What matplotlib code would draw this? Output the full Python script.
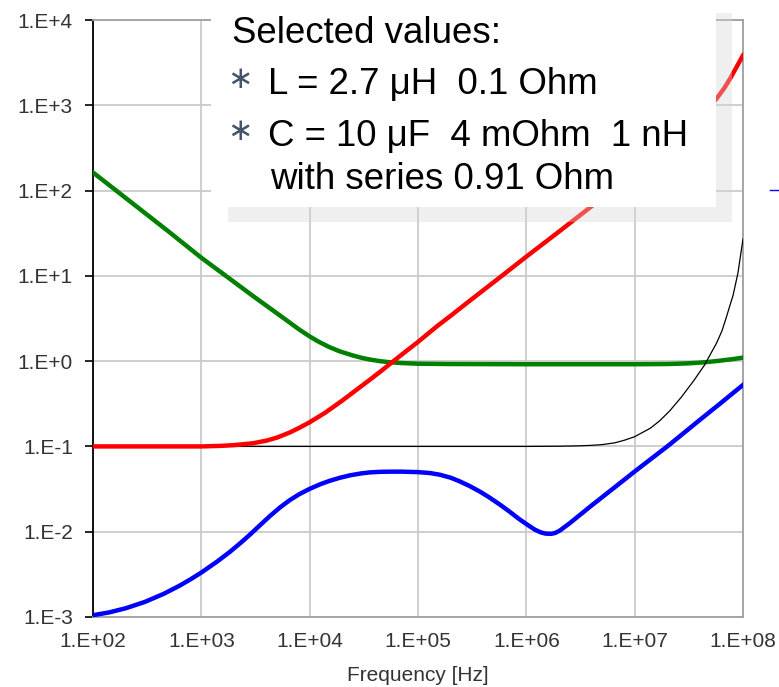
import matplotlib
matplotlib.use('Agg')
import matplotlib.pyplot as plt
from matplotlib.patches import Rectangle
from matplotlib.lines import Line2D
from matplotlib.ticker import NullLocator

W, H = 779, 687

# ---------------- data ----------------
x_ticks = [1e2, 1e3, 1e4, 1e5, 1e6, 1e7, 1e8]
x_tick_labels = ['1.E+02', '1.E+03', '1.E+04', '1.E+05', '1.E+06', '1.E+07', '1.E+08']
y_ticks = [1e-3, 1e-2, 1e-1, 1e0, 1e1, 1e2, 1e3, 1e4]
y_tick_labels = ['1.E-3', '1.E-2', '1.E-1', '1.E+0', '1.E+1', '1.E+2', '1.E+3', '1.E+4']
x_label = 'Frequency [Hz]'

green_f = [1e2, 2e2, 5e2, 1e3, 2e3, 3e3, 4.5e3, 6.5e3, 8e3, 1e4, 1.2e4, 1.5e4,
           1.9e4, 2.5e4, 3e4, 3.6e4, 4.5e4, 5.5e4, 7e4, 1e5, 2e5, 1e6, 1e7,
           2e7, 3e7, 4e7, 5e7, 6e7, 8e7, 1e8]
green_z = [163, 82, 33, 16.3, 8.5, 5.8, 4.0, 2.85, 2.35, 1.95, 1.70, 1.472,
           1.301, 1.166, 1.096, 1.044, 0.998, 0.971, 0.950, 0.933, 0.925, 0.92,
           0.92, 0.925, 0.94, 0.96, 0.985, 1.01, 1.055, 1.1]

black_f = [1e2, 1e6, 2e6, 3e6, 4e6, 5e6, 6.5e6, 8e6, 1e7, 1.4e7, 1.7e7, 2.1e7,
           2.7e7, 3.5e7, 4e7, 4.4e7, 5.1e7, 5.7e7, 6.4e7, 7.06e7, 7.6e7, 8.1e7,
           8.6e7, 9e7, 9.5e7, 1e8]
black_z = [0.1, 0.1, 0.1005, 0.1015, 0.103, 0.105, 0.11, 0.118, 0.13, 0.164,
           0.1995, 0.26, 0.379, 0.587, 0.751, 0.894, 1.26, 1.627, 2.27, 3.35,
           4.56, 5.93, 8.39, 10.96, 17.5, 27]

blue_f = [1e2, 1.4e2, 2e2, 3e2, 4.5e2, 6.3e2, 8e2, 1e3, 1.4e3, 1.83e3, 2.3e3,
          2.8e3, 3.5e3, 4.3e3, 5.3e3, 6.5e3, 8e3, 1e4, 1.25e4, 1.53e4, 1.9e4,
          2.35e4, 3e4, 3.6e4, 4.5e4, 5.5e4, 7e4, 1e5, 1.3e5, 1.6e5, 2e5, 2.4e5,
          3e5, 3.7e5, 4.5e5, 5.7e5, 7e5, 8.7e5, 1.05e6, 1.2e6, 1.35e6, 1.5e6,
          1.7e6, 1.85e6, 2.04e6, 2.5e6, 3.1e6, 4e6, 4.8e6, 7e6, 1e7, 1.4e7, 2e7,
          3e7, 4e7, 6e7, 8e7, 1e8]
blue_z = [1.05e-3, 1.13e-3, 1.265e-3, 1.50e-3, 1.87e-3, 2.33e-3, 2.78e-3,
          3.32e-3, 4.47e-3, 5.79e-3, 7.38e-3, 9.2e-3, 0.0120, 0.01528, 0.01917,
          0.0233, 0.0275, 0.0318, 0.036, 0.0395, 0.0429, 0.0458, 0.0483,
          0.0496, 0.0504, 0.0506, 0.0506, 0.050, 0.0487, 0.0465, 0.043, 0.0392,
          0.0343, 0.0297, 0.0255, 0.0208, 0.0172, 0.0139, 0.0118, 0.01057,
          0.00985, 0.0095, 0.00944, 0.00968, 0.01032, 0.01251, 0.0156, 0.0203,
          0.02434, 0.0355, 0.0508, 0.0706, 0.1, 0.152, 0.205, 0.31, 0.418,
          0.526]

red_f = [1e2, 1e3, 1.5e3, 2e3, 3e3, 4e3, 5e3, 6.5e3, 8e3, 1e4, 1.4e4, 2e4,
         2.7e4, 3.5e4, 4.5e4, 5.5e4, 7e4, 1e5, 1.5e5, 2e5, 3e5, 5.7e5, 1e6,
         2e6, 4.1e6, 1e7, 2e7, 3.5e7, 5e7, 5.7e7, 6.7e7, 7.6e7, 8.5e7, 1e8]
red_z = [0.1, 0.1, 0.1015, 0.1035, 0.109, 0.117, 0.127, 0.145, 0.165, 0.192,
         0.25, 0.345, 0.46, 0.59, 0.755, 0.925, 1.18, 1.68, 2.57, 3.4, 5.1, 9.6,
         16.8, 33, 67, 163, 330, 618, 980, 1200, 1580, 2050, 2650, 3850]

box_title = 'Selected values:'
box_items = ['L = 2.7 \u03bcH  0.1 Ohm', 'C = 10 \u03bcF  4 mOhm  1 nH']
box_cont = 'with series 0.91 Ohm'

# ---------------- figure ----------------
plt.rcParams['font.family'] = ['Liberation Sans', 'DejaVu Sans']

fig = plt.figure(figsize=(W / 100, H / 100), dpi=100)


def fx(px):
    return px / W


def fy(py):
    return 1 - py / H


ax = fig.add_axes([fx(93), fy(617), (743 - 93) / W, (617 - 20) / H])
ax.set_xscale('log')
ax.set_yscale('log')
ax.set_xlim(1e2, 1e8)
ax.set_ylim(1e-3, 1e4)
ax.xaxis.set_minor_locator(NullLocator())
ax.yaxis.set_minor_locator(NullLocator())
ax.set_xticks(x_ticks)
ax.set_xticklabels(x_tick_labels)
ax.set_yticks(y_ticks)
ax.set_yticklabels(y_tick_labels)
ax.grid(True, which='major', color='#cacaca', lw=1.3)
ax.set_axisbelow(True)

ax.tick_params(axis='x', length=0, pad=11, labelsize=15, labelcolor='#333333')
ax.tick_params(axis='y', length=6, width=1.2, color='black', pad=8.5,
               labelsize=15, labelcolor='#333333')
for s in ['top', 'right', 'bottom']:
    ax.spines[s].set_color('#a0a0a0')
    ax.spines[s].set_linewidth(1.3)
ax.spines['left'].set_color('black')
ax.spines['left'].set_linewidth(1.3)

ax.plot(green_f, green_z, color='#008000', lw=3.2, zorder=3,
        solid_joinstyle='round')
ax.plot(black_f, black_z, color='black', lw=0.9, zorder=4)
ax.plot(blue_f, blue_z, color='#0000ff', lw=3.2, zorder=5,
        solid_joinstyle='round')
ax.plot(red_f, red_z, color='#ff0000', lw=3.2, zorder=6,
        solid_joinstyle='round')

fig.text(fx(418), fy(681), x_label, ha='center', va='baseline', fontsize=15,
         color='#333333')

# ---------------- annotation box ----------------
shadow = Rectangle((fx(228), fy(222)), (732 - 228) / W, (222 - 13) / H,
                   transform=fig.transFigure, facecolor='#d6d6d6', alpha=0.38,
                   edgecolor='none', zorder=10)
fig.add_artist(shadow)
white = Rectangle((fx(211), fy(207)), (716 - 211) / W, (207 + 10) / H,
                  transform=fig.transFigure, facecolor='white',
                  edgecolor='none', zorder=11)
fig.add_artist(white)

fs = 26.4
fig.text(fx(232), fy(43), box_title, fontsize=fs, va='baseline', ha='left',
         color='black', zorder=12)
for item, base in zip(box_items, [94, 146]):
    fig.text(fx(240), fy(base - 14), '\u2217', fontsize=22, va='center',
             ha='center', color='#44546a', family=['DejaVu Sans'], zorder=12)
    fig.text(fx(268), fy(base), item, fontsize=fs, va='baseline', ha='left',
             color='black', zorder=12)
fig.text(fx(270), fy(189), box_cont, fontsize=fs, va='baseline', ha='left',
         color='black', zorder=12)

# cropped legend remnant at the right edge
fig.add_artist(Line2D([fx(770), fx(779)], [fy(190), fy(190)], color='#0000ff',
                      lw=1, transform=fig.transFigure, zorder=12))

fig.savefig('out.png', dpi=100)
